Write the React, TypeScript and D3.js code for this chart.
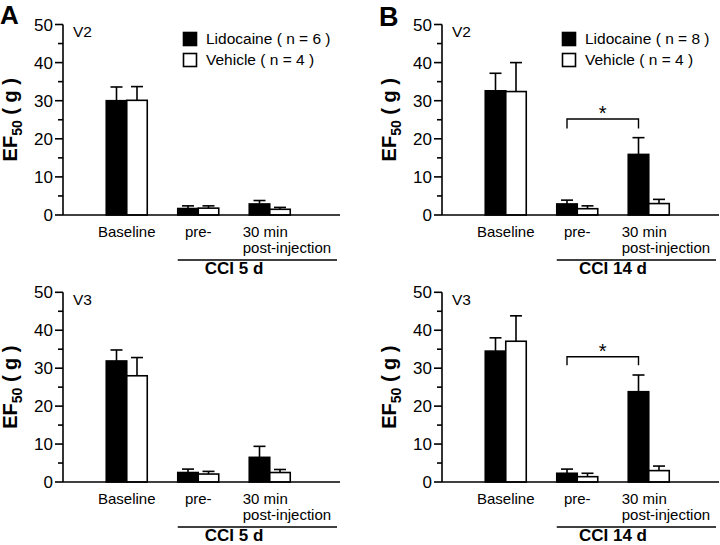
import React from "react";
import * as d3 from "d3";

const categories = ["Baseline", "pre-", "30 min|post-injection"];
const seriesNames = ["Lidocaine", "Vehicle"];
const yTicksMajor = [0, 10, 20, 30, 40, 50];
const yTicksMinor = [5, 15, 25, 35, 45];

// Panel A (CCI 5 d)
const aV2Lido = [30.0, 1.7, 2.9];
const aV2LidoErr = [3.6, 0.7, 0.9];
const aV2Veh = [30.1, 1.8, 1.5];
const aV2VehErr = [3.6, 0.6, 0.5];
const aV3Lido = [31.9, 2.5, 6.5];
const aV3LidoErr = [2.9, 0.9, 2.9];
const aV3Veh = [28.0, 2.1, 2.5];
const aV3VehErr = [4.8, 0.7, 0.8];

// Panel B (CCI 14 d)
const bV2Lido = [32.6, 2.9, 15.9];
const bV2LidoErr = [4.6, 1.0, 4.4];
const bV2Veh = [32.4, 1.65, 3.0];
const bV2VehErr = [7.6, 0.75, 1.1];
const bV3Lido = [34.5, 2.3, 23.8];
const bV3LidoErr = [3.5, 1.1, 4.4];
const bV3Veh = [37.1, 1.4, 3.0];
const bV3VehErr = [6.7, 0.9, 1.2];

// significance brackets (value units) for panel B
const bracketTop = [25.2, 33.0];
const bracketBottom = [22.7, 30.8];

const panelLetters = ["A", "B"];
const nLido = [6, 8];
const nVeh = [4, 4];
const cciLabels = ["CCI 5 d", "CCI 14 d"];
const rowLabels = ["V2", "V3"];

const FONT = "'Liberation Sans', Arial, Helvetica, sans-serif";

type Sub = {
  col: number;
  row: number;
  lido: number[];
  lidoErr: number[];
  veh: number[];
  vehErr: number[];
  bracket?: [number, number];
};

const subs: Sub[] = [
  { col: 0, row: 0, lido: aV2Lido, lidoErr: aV2LidoErr, veh: aV2Veh, vehErr: aV2VehErr },
  { col: 0, row: 1, lido: aV3Lido, lidoErr: aV3LidoErr, veh: aV3Veh, vehErr: aV3VehErr },
  { col: 1, row: 0, lido: bV2Lido, lidoErr: bV2LidoErr, veh: bV2Veh, vehErr: bV2VehErr, bracket: [bracketTop[0], bracketBottom[0]] },
  { col: 1, row: 1, lido: bV3Lido, lidoErr: bV3LidoErr, veh: bV3Veh, vehErr: bV3VehErr, bracket: [bracketTop[1], bracketBottom[1]] },
];

const axisXs = [63, 442];
const yBottoms = [215, 482];
const yTops = [24.5, 292.3];
const axisLen = 277;

function SubPlot({ s }: { s: Sub }) {
  const ax = axisXs[s.col];
  const y = d3.scaleLinear().domain([0, 50]).range([yBottoms[s.row], yTops[s.row]]);
  const x = d3.scaleBand().domain(categories).range([ax + 28, ax + 28 + 3 * 71.5]).padding(0);
  const inner = d3.scaleBand().domain(seriesNames).range([-20.5, 20.5]).padding(0);
  const cx = (c: string) => (x(c) as number) + x.bandwidth() / 2;
  const y0 = y(0);
  const sw = 1.6;
  const series = [
    { name: "Lidocaine", vals: s.lido, errs: s.lidoErr, fill: "#000" },
    { name: "Vehicle", vals: s.veh, errs: s.vehErr, fill: "#fff" },
  ];
  const midY = (y(0) + y(50)) / 2;
  const preC = cx(categories[1]);
  const postC = cx(categories[2]);
  const bw = inner.bandwidth();
  return (
    <g>
      {/* y label */}
      <text
        transform={`translate(${ax - 46},${midY}) rotate(-90)`}
        textAnchor="middle"
        fontFamily={FONT}
        fontWeight="bold"
        fontSize={20}
      >
        EF<tspan fontSize={14} dy={5}>50</tspan>
        <tspan dy={-5}> ( g )</tspan>
      </text>
      {/* bars + error bars */}
      {series.map((se) =>
        categories.map((c, i) => {
          const bx = cx(c) + (inner(se.name) as number);
          const top = y(se.vals[i]);
          const etop = y(se.vals[i] + se.errs[i]);
          const mx = bx + bw / 2;
          return (
            <g key={se.name + c}>
              <line x1={mx} x2={mx} y1={top} y2={etop} stroke="#000" strokeWidth={sw} />
              <line x1={mx - 6} x2={mx + 6} y1={etop} y2={etop} stroke="#000" strokeWidth={sw} />
              <rect x={bx} y={top} width={bw} height={y0 - top} fill={se.fill} stroke="#000" strokeWidth={sw} />
            </g>
          );
        })
      )}
      {/* axes */}
      <line x1={ax} x2={ax} y1={y(50)} y2={y0} stroke="#000" strokeWidth={sw} />
      <line x1={ax} x2={ax + axisLen} y1={y0} y2={y0} stroke="#000" strokeWidth={sw} />
      {yTicksMajor.map((t) => (
        <g key={"M" + t}>
          <line x1={ax - 8} x2={ax} y1={y(t)} y2={y(t)} stroke="#000" strokeWidth={sw} />
          <text x={ax - 10} y={y(t)} dy="0.36em" textAnchor="end" fontFamily={FONT} fontSize={17}>
            {t}
          </text>
        </g>
      ))}
      {yTicksMinor.map((t) => (
        <line key={"m" + t} x1={ax - 5} x2={ax} y1={y(t)} y2={y(t)} stroke="#000" strokeWidth={sw} />
      ))}
      {/* row label */}
      <text x={ax + 10} y={y(50) + 12.5} fontFamily={FONT} fontSize={15.5}>
        {rowLabels[s.row]}
      </text>
      {/* category labels */}
      {categories.map((c) => {
        const parts = c.split("|");
        if (parts.length === 1) {
          return (
            <text key={c} x={cx(c)} y={y0 + 22} textAnchor="middle" fontFamily={FONT} fontSize={15}>
              {c}
            </text>
          );
        }
        return (
          <text key={c} x={cx(c) - 27} y={y0 + 22} fontFamily={FONT} fontSize={15}>
            <tspan x={cx(c) - 27}>{parts[0]}</tspan>
            <tspan x={cx(c) - 27} dy={15.5}>{parts[1]}</tspan>
          </text>
        );
      })}
      <line x1={preC - 20.5} x2={ax + 274} y1={y0 + 45} y2={y0 + 45} stroke="#000" strokeWidth={sw} />
      <text x={(preC + postC) / 2} y={y0 + 59} textAnchor="middle" fontFamily={FONT} fontWeight="bold" fontSize={17}>
        {cciLabels[s.col]}
      </text>
      {/* legend */}
      {s.row === 0 && (
        <g>
          <rect x={ax + 120.5} y={y(50) + 8} width={13} height={13} fill="#000" stroke="#000" strokeWidth={sw} />
          <text x={ax + 143} y={y(50) + 19.5} fontFamily={FONT} fontSize={15.5}>
            {`Lidocaine ( n = ${nLido[s.col]} )`}
          </text>
          <rect x={ax + 120.5} y={y(50) + 29} width={13} height={13} fill="#fff" stroke="#000" strokeWidth={sw} />
          <text x={ax + 143} y={y(50) + 40} fontFamily={FONT} fontSize={15.5}>
            {`Vehicle ( n = ${nVeh[s.col]} )`}
          </text>
        </g>
      )}
      {/* bracket */}
      {s.bracket && (
        <g>
          <path
            d={`M${preC + (inner("Lidocaine") as number) + bw / 2},${y(s.bracket[1])}V${y(s.bracket[0])}H${postC + (inner("Lidocaine") as number) + bw / 2}V${y(s.bracket[1])}`}
            fill="none"
            stroke="#000"
            strokeWidth={1.4}
          />
          <text
            x={(preC + postC) / 2 - 10.25}
            y={y(s.bracket[0]) + 1}
            textAnchor="middle"
            fontFamily={FONT}
            fontSize={20}
          >
            *
          </text>
        </g>
      )}
    </g>
  );
}

export default function App() {
  return (
    <svg
      width={720}
      height={545}
      style={{ position: "absolute", left: 0, top: 0, background: "#fff" }}
    >
      <rect width={720} height={545} fill="#fff" />
      {subs.map((s, i) => (
        <SubPlot key={i} s={s} />
      ))}
      <text x={0} y={24} fontFamily={FONT} fontWeight="bold" fontSize={26}>
        {panelLetters[0]}
      </text>
      <text x={379} y={26} fontFamily={FONT} fontWeight="bold" fontSize={27}>
        {panelLetters[1]}
      </text>
    </svg>
  );
}
